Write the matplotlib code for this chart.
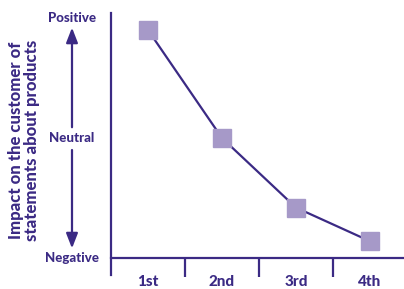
import matplotlib
matplotlib.use("Agg")
import matplotlib.pyplot as plt
from matplotlib.lines import Line2D

# =========================================================
# DONNEES
# =========================================================

categories = ["1st", "2nd", "3rd", "4th"]
impact = [0.9, 0.0, -0.58, -0.86]
level_labels = ["Positive", "Neutral", "Negative"]
level_values = [1.0, 0.0, -1.0]

DARK = "#3b2a84"
LIGHT = "#a699c8"
FONT = "Lato"
WEIGHT = 900

W, H = 404, 289
fig = plt.figure(figsize=(W / 100, H / 100), dpi=100)

# axes: pixel 111..404 horizontalement, 13..258 verticalement
ax = fig.add_axes([111 / W, (H - 258) / H, (404 - 111) / W, (258 - 13) / H])
ax.set_xlim(-0.5, 3.46)
ax.set_ylim(-1, 1.042)

x = list(range(len(categories)))
ax.plot(x, impact, color=DARK, lw=1.6, zorder=2)
ax.plot(x, impact, ls="none", marker="s", ms=12.5, mfc=LIGHT, mec=LIGHT, zorder=3)

for s in ax.spines.values():
    s.set_visible(False)

# lignes des axes (celle de gauche descend sous l'axe)
ax.add_line(Line2D([0, 0], [-0.07, 1], transform=ax.transAxes, color=DARK,
                   lw=1.6, clip_on=False))
ax.add_line(Line2D([0, 1], [0, 0], transform=ax.transAxes, color=DARK,
                   lw=1.6, clip_on=False))

ax.set_xticks(x)
ax.set_xticklabels(categories, fontsize=11, fontweight=WEIGHT, color=DARK,
                   family=FONT)
ax.set_xticks([0.5, 1.5, 2.5], minor=True)
ax.tick_params(axis="x", which="major", length=0, pad=12)
ax.tick_params(axis="x", which="minor", length=13.5, width=1.6, color=DARK,
               direction="out")
ax.set_yticks([])

# labels de niveau a gauche
tr = ax.get_yaxis_transform()
x_lab = (72 - 111) / (404 - 111)
for lab, v in zip(level_labels, level_values):
    ax.text(x_lab, v, lab, transform=tr, ha="center", va="center",
            fontsize=9.5, fontweight=WEIGHT, color=DARK, family=FONT,
            clip_on=False)

x_arr = (72 - 111) / (404 - 111)
arrow = dict(arrowstyle="-|>,head_length=0.9,head_width=0.35", color=DARK,
             lw=1.6, shrinkA=0, shrinkB=0)
ax.annotate("", xy=(x_arr, 0.92), xytext=(x_arr, 0.09), xycoords=tr,
            textcoords=tr, arrowprops=arrow, annotation_clip=False)
ax.annotate("", xy=(x_arr, -0.92), xytext=(x_arr, -0.1), xycoords=tr,
            textcoords=tr, arrowprops=arrow, annotation_clip=False)

fig.text(24 / W, 1 - 140 / H, "Impact on the customer of\nstatements about products",
         rotation=90, ha="center", va="center", fontsize=12,
         fontweight=WEIGHT, color=DARK, family=FONT, linespacing=1.0)

fig.savefig("out.png", dpi=100)
